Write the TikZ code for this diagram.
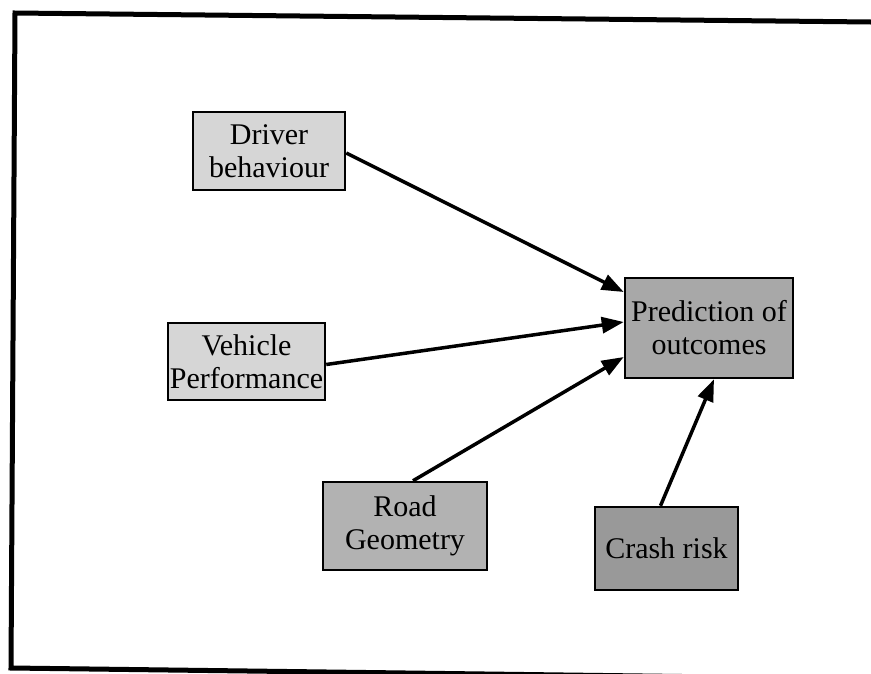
\documentclass[tikz,border=0pt]{standalone}
\usepackage{fontspec}
\setmainfont{Liberation Serif}
\usetikzlibrary{arrows.meta}
\begin{document}
\begin{tikzpicture}[x=1pt,y=-1pt,
  box/.style={draw=black,line width=2.5pt,align=center,inner sep=0pt,
    font=\fontsize{30}{33}\selectfont},
  conn/.style={line width=3.5pt,-{Triangle[length=22pt,width=16pt]}},
  frame/.style={line width=5pt}]
\useasboundingbox (0,0) rectangle (871,673);
\begin{scope}
\clip (0,0) rectangle (871,673);
\draw[frame] (871,22) -- (15,13) -- (11,668) -- (880,679);
\end{scope}
\node[box,fill=black!16,minimum width=152pt,minimum height=78pt] (d) at (269,151) {Driver\\behaviour};
\node[box,fill=black!16,minimum width=157pt,minimum height=77pt] (v) at (246.5,361.5) {Vehicle\\Performance};
\node[box,fill=black!34,minimum width=168pt,minimum height=100pt] (p) at (709,328) {Prediction of\\outcomes};
\node[box,fill=black!30,minimum width=164pt,minimum height=88pt] (r) at (405,526) {Road\\Geometry};
\node[box,fill=black!40,minimum width=143pt,minimum height=83pt] (c) at (666.5,548.5) {Crash risk};
\draw[conn] ([yshift=-2pt]d.east) -- ([yshift=36pt]p.west);
\draw[conn] ([yshift=-3pt]v.east) -- ([yshift=6pt]p.west);
\draw[conn] ([xshift=8pt]r.north) -- ([yshift=-29pt]p.west);
\draw[conn] ([xshift=-6pt]c.north) -- ([xshift=5pt]p.south);
\end{tikzpicture}
\end{document}
